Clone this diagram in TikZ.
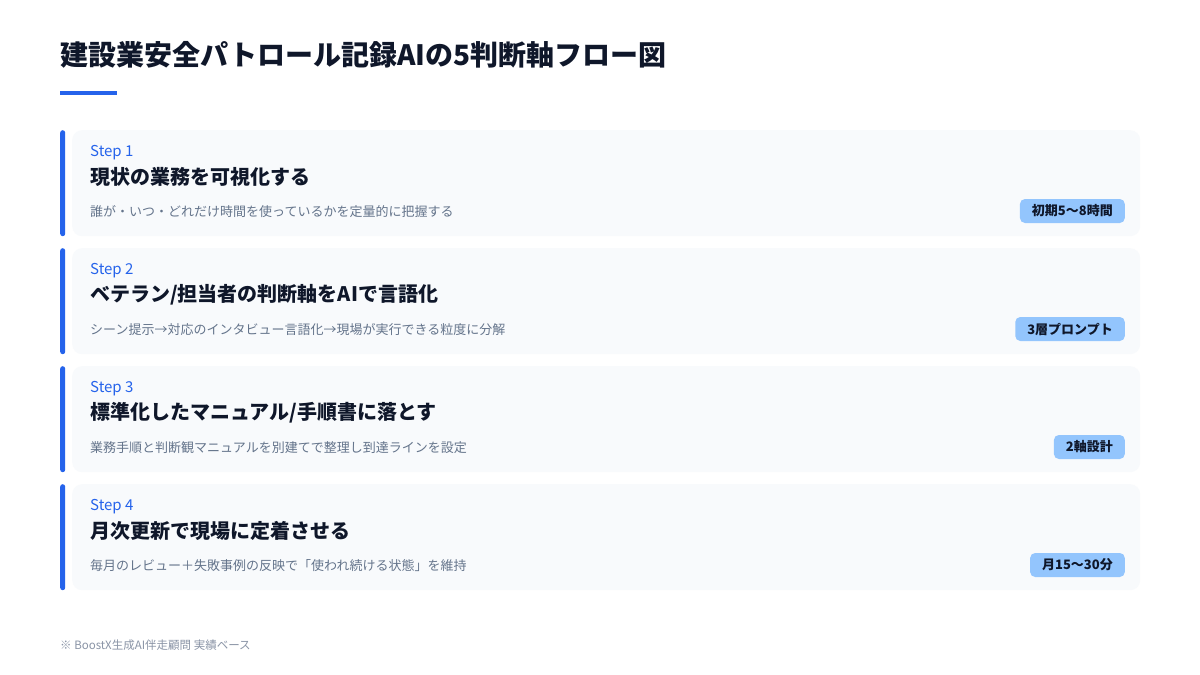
\documentclass[tikz,border=0pt]{standalone}
\usepackage{fontspec}
\setmainfont{Noto Sans CJK JP}
\definecolor{accent}{HTML}{2563EB}
\definecolor{ink}{HTML}{0F172A}
\definecolor{muted}{HTML}{64748B}
\definecolor{faint}{HTML}{8A94A6}
\definecolor{cardbg}{HTML}{F8FAFC}
\definecolor{badgebg}{HTML}{93C5FD}
\tikzset{
  card/.style={fill=cardbg, rounded corners=10pt, minimum width=1068pt, minimum height=106pt, anchor=north west, inner sep=0pt},
  stripe/.style={fill=accent, rounded corners=2.5pt, minimum width=5pt, minimum height=106pt, anchor=north west, inner sep=0pt},
  steplabel/.style={anchor=west, inner sep=0pt, text=accent, font=\fontsize{15}{17}\selectfont},
  steptitle/.style={anchor=west, inner sep=0pt, text=ink, font=\fontsize{20}{24}\selectfont\bfseries},
  stepdesc/.style={anchor=west, inner sep=0pt, text=muted, font=\fontsize{13}{16}\selectfont},
  badge/.style={anchor=east, fill=badgebg, rounded corners=5pt, inner xsep=12pt, inner ysep=0pt, minimum height=24pt, text=ink, font=\fontsize{13}{15}\selectfont\bfseries}
}
\begin{document}
\begin{tikzpicture}[x=1pt,y=-1pt]
    \useasboundingbox[fill=white] (0,0) rectangle (1200,675);
    % title
    \node[anchor=west, inner sep=0pt, text=ink, font=\fontsize{28}{32}\selectfont\bfseries] (title) at (60,55) {建設業安全パトロール記録AIの5判断軸フロー図};
    \fill[accent] (60,90.5) rectangle (117,94.5);
    % step 1
    \node[card] (card1) at (72,130) {};
    \node[stripe] (bar1) at (60,130) {};
    \node[steplabel] (lbl1) at (90,153) {Step 1};
    \node[steptitle] (ttl1) at (90,177) {現状の業務を可視化する};
    \node[stepdesc] (dsc1) at (90,212) {誰が・いつ・どれだけ時間を使っているかを定量的に把握する};
    \node[badge] (bdg1) at (1125,211) {初期5〜8時間};
    % step 2
    \node[card] (card2) at (72,248) {};
    \node[stripe] (bar2) at (60,248) {};
    \node[steplabel] (lbl2) at (90,271) {Step 2};
    \node[steptitle] (ttl2) at (90,295) {ベテラン/担当者の判断軸をAIで言語化};
    \node[stepdesc] (dsc2) at (90,330) {シーン提示→対応のインタビュー言語化→現場が実行できる粒度に分解};
    \node[badge] (bdg2) at (1125,329) {3層プロンプト};
    % step 3
    \node[card] (card3) at (72,366) {};
    \node[stripe] (bar3) at (60,366) {};
    \node[steplabel] (lbl3) at (90,389) {Step 3};
    \node[steptitle] (ttl3) at (90,413) {標準化したマニュアル/手順書に落とす};
    \node[stepdesc] (dsc3) at (90,448) {業務手順と判断観マニュアルを別建てで整理し到達ラインを設定};
    \node[badge] (bdg3) at (1125,447) {2軸設計};
    % step 4
    \node[card] (card4) at (72,484) {};
    \node[stripe] (bar4) at (60,484) {};
    \node[steplabel] (lbl4) at (90,507) {Step 4};
    \node[steptitle] (ttl4) at (90,531) {月次更新で現場に定着させる};
    \node[stepdesc] (dsc4) at (90,566) {毎月のレビュー＋失敗事例の反映で「使われ続ける状態」を維持};
    \node[badge] (bdg4) at (1125,565) {月15〜30分};
    % footnote
    \node[anchor=west, inner sep=0pt, text=faint, font=\fontsize{11.5}{14}\selectfont] (note) at (60,645) {※ BoostX生成AI伴走顧問 実績ベース};
\end{tikzpicture}
\end{document}
